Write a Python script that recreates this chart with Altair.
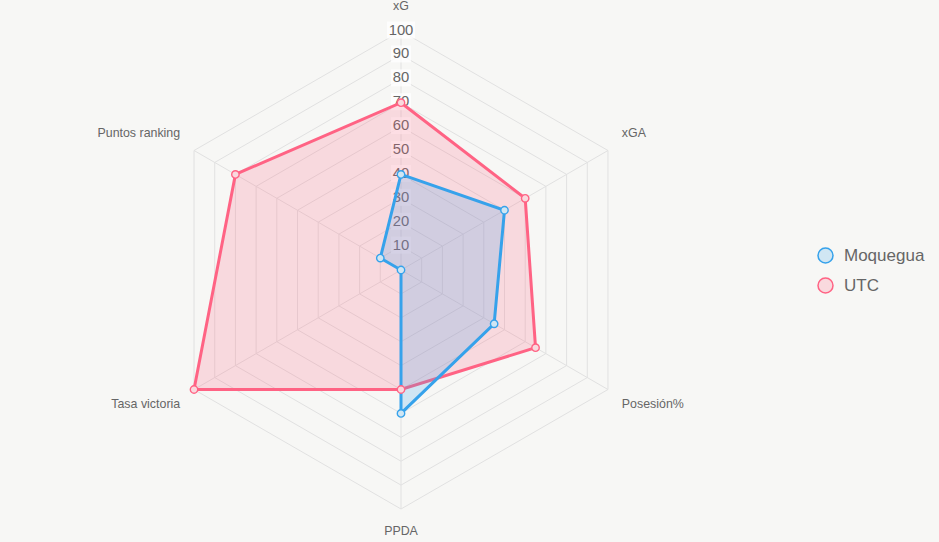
import altair as alt
import pandas as pd

# ---- data ----
axes = ["xG", "xGA", "Posesión%", "PPDA", "Tasa victoria", "Puntos ranking"]
teams = ["Moquegua", "UTC"]
moquegua = [40, 50, 45, 60, 0, 10]
utc = [70, 60, 65, 50, 100, 80]
ticks = [10, 20, 30, 40, 50, 60, 70, 80, 90, 100]

# ---- layout constants ----
W, H = 939, 542
CX, CY = 401, 270
K = 2.39  # pixels per value unit
BG = "#f7f7f5"
FONT = "Liberation Sans"
full_colors = ["#36A2EB", "#FF6384"]
light_colors = ["#d0e6f3", "#f9d9de"]

xs = alt.Scale(domain=[-CX / K, (W - CX) / K], nice=False, zero=False)
ys = alt.Scale(domain=[-(H - CY) / K, CY / K], nice=False, zero=False)

n = len(axes)
rows = []
for team, vals in zip(teams, [moquegua, utc]):
    for i, (a, v) in enumerate(zip(axes, vals)):
        rows.append({"team": team, "axis": a, "idx": i, "value": v})
df = pd.DataFrame(rows)

ANG = "PI/2 - datum.idx*2*PI/%d" % n

def polar(chart, rfield, xname="px", yname="py"):
    return chart.transform_calculate(
        **{xname: "datum.%s*cos(%s)" % (rfield, ANG), yname: "datum.%s*sin(%s)" % (rfield, ANG)}
    )

X = lambda f: alt.X(f, type="quantitative", scale=xs, axis=None)
Y = lambda f: alt.Y(f, type="quantitative", scale=ys, axis=None)

# grid hexagons
grid_rows = [{"level": t, "idx": i} for t in ticks for i in range(n)]
grid_df = pd.DataFrame(grid_rows)
grid = polar(alt.Chart(grid_df), "level").mark_line(
    interpolate="linear-closed", stroke="#e1e1e1", strokeWidth=1
).encode(x=X("px"), y=Y("py"), detail="level:O", order="idx:Q")

# radial lines
axis_df = pd.DataFrame({"axis": axes, "idx": list(range(n)), "r": [max(ticks)] * n, "zero": [0] * n})
radial = polar(alt.Chart(axis_df), "r").mark_rule(stroke="#e1e1e1", strokeWidth=1).encode(
    x=X("zero"), y=Y("zero"), x2="px:Q", y2="py:Q"
)

# axis labels
RL = 255 / K
lab = alt.Chart(axis_df).transform_calculate(rl=str(RL))
lab = polar(lab, "rl")
tstyle = dict(font=FONT, fontSize=12.4, color="#666")
lab_top_c = lab.transform_filter("datum.idx == 0").mark_text(align="center", baseline="bottom", dy=-2, **tstyle).encode(x=X("px"), y=Y("py"), text="axis:N")
lab_bot_c = lab.transform_filter("datum.idx == 3").mark_text(align="center", baseline="top", **tstyle).encode(x=X("px"), y=Y("py"), text="axis:N")
lab_top_r = lab.transform_filter("datum.idx == 1").mark_text(align="left", baseline="bottom", dy=-3, **tstyle).encode(x=X("px"), y=Y("py"), text="axis:N")
lab_bot_r = lab.transform_filter("datum.idx == 2").mark_text(align="left", baseline="top", **tstyle).encode(x=X("px"), y=Y("py"), text="axis:N")
lab_bot_l = lab.transform_filter("datum.idx == 4").mark_text(align="right", baseline="top", **tstyle).encode(x=X("px"), y=Y("py"), text="axis:N")
lab_top_l = lab.transform_filter("datum.idx == 5").mark_text(align="right", baseline="bottom", dy=-3, **tstyle).encode(x=X("px"), y=Y("py"), text="axis:N")

# team polygons (UTC drawn first, Moquegua on top)
def polygon(team, color):
    return polar(alt.Chart(df).transform_filter(alt.datum.team == team), "value").mark_line(
        interpolate="linear-closed", fill=color, fillOpacity=0.2, stroke=color, strokeWidth=3,
        strokeJoin="miter"
    ).encode(x=X("px"), y=Y("py"), order="idx:Q")

poly_utc = polygon("UTC", full_colors[1])
poly_moq = polygon("Moquegua", full_colors[0])

# vertex points + legend
leg = dict(
    orient="none", legendX=817, legendY=247, title=None, symbolType="circle",
    symbolSize=225, symbolStrokeWidth=1.5, labelFont=FONT, labelFontSize=17,
    labelColor="#666", labelOffset=10, rowPadding=9,
)
points = polar(alt.Chart(df), "value").mark_point(
    filled=True, size=55, strokeWidth=1.4, opacity=1
).encode(
    x=X("px"), y=Y("py"),
    fill=alt.Fill("team:N", scale=alt.Scale(domain=teams, range=light_colors), legend=alt.Legend(**leg)),
    stroke=alt.Stroke("team:N", scale=alt.Scale(domain=teams, range=full_colors), legend=alt.Legend(**leg)),
    order=alt.Order("team:N", sort="descending"),
)

# tick labels with backdrop (drawn under the datasets, as in the reference)
tick_df = pd.DataFrame({"level": ticks, "label": [str(t) for t in ticks]})
tick_base = alt.Chart(tick_df).transform_calculate(
    hw="(length(datum.label)*8/2 + 2)/%f" % K,
    hh="8.5/%f" % K,
)
tick_bg = tick_base.transform_calculate(
    x1="-datum.hw", x2="datum.hw", y1="datum.level - datum.hh + 0.4", y2="datum.level + datum.hh + 0.4"
).mark_rect(fill="white", opacity=0.75).encode(x=X("x1"), x2="x2:Q", y=Y("y1"), y2="y2:Q")
tick_txt = tick_base.transform_calculate(zero="0").mark_text(
    font=FONT, fontSize=14.8, color="#666", baseline="middle", align="center", dy=-0.5
).encode(x=X("zero"), y=Y("level"), text="label:N")

chart = alt.layer(
    grid, radial, tick_bg, tick_txt, poly_utc, poly_moq, points,
    lab_top_c, lab_bot_c, lab_top_r, lab_bot_r, lab_bot_l, lab_top_l,
).properties(
    width=W, height=H, padding=0, autosize=alt.AutoSizeParams(type="none"), background=BG
).configure_view(stroke=None)

chart.save("out.html", embed_options={"renderer": "svg", "actions": False})
